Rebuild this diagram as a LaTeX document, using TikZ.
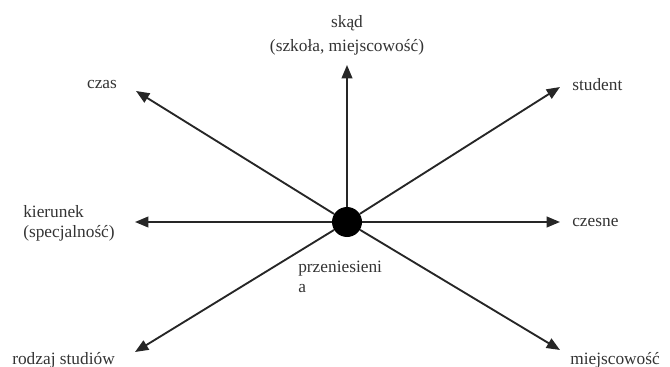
\documentclass[tikz,border=0pt]{standalone}
\usepackage{fontspec}
\setmainfont{Liberation Serif}
\usetikzlibrary{arrows.meta}

\begin{document}
\begin{tikzpicture}[x=0.75pt, y=-0.75pt,
  hub/.style={circle, fill=black, minimum size=22.5pt, inner sep=0pt},
  lbl/.style={font=\fontsize{13}{15}\selectfont, inner sep=0pt, text=black!80},
  ray/.style={-{Triangle[length=10pt,width=8pt]}, line width=1.4pt, black!85},
]
\useasboundingbox (0,0) rectangle (670,367);

\node[hub] (hub) at (347,222) {};

% arrow tips
\coordinate (tUp)    at (347,65);
\coordinate (tCzas)  at (136,91);
\coordinate (tStud)  at (560,87);
\coordinate (tLeft)  at (135,222);
\coordinate (tRight) at (560,222);
\coordinate (tRodz)  at (135,352);
\coordinate (tMiej)  at (560,350);

% labels
\node[lbl, align=center, font=\fontsize{13}{18}\selectfont] (skad) at (347,35) {skąd\\(szkoła, miejscowość)};
\node[lbl] (czas) at (102,85) {czas};
\node[lbl, anchor=west] (student) at (572,85) {student};
\node[lbl, anchor=west, align=left] (kierunek) at (23,223) {kierunek\\(specjalność)};
\node[lbl, anchor=west] (czesne) at (572,222) {czesne};
\node[lbl, anchor=north west, align=left] (przen) at (298,261) {przeniesieni\\a};
\node[lbl, anchor=west] (rodzaj) at (12,360) {rodzaj studiów};
\node[lbl, anchor=west] (miejsc) at (570,360) {miejscowość};

% rays
\foreach \t in {tUp, tCzas, tStud, tLeft, tRight, tRodz, tMiej}
  \draw[ray] (hub) -- (\t);
\end{tikzpicture}
\end{document}
